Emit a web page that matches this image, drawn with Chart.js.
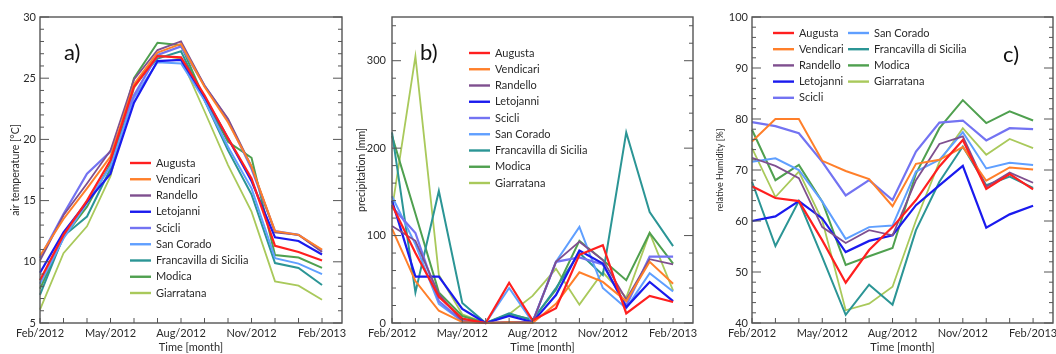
<!DOCTYPE html>
<html><head><meta charset="utf-8">
<script src="https://cdn.jsdelivr.net/npm/chart.js@4.4.0/dist/chart.umd.min.js"></script>
<style>
html,body{margin:0;padding:0;background:#fff;}
#wrap{position:relative;width:1056px;height:354px;overflow:hidden;background:#fff;}
canvas{position:absolute;top:0;}
</style></head><body>
<div id="wrap">
<canvas id="ca" width="350" height="354" style="left:0px"></canvas>
<canvas id="cb" width="350" height="354" style="left:350px"></canvas>
<canvas id="cc" width="356" height="354" style="left:700px"></canvas>
</div>
<script>
// ---------- categories / tick labels ----------
const months = ['Feb/2012','Mar/2012','Apr/2012','May/2012','Jun/2012','Jul/2012','Aug/2012','Sep/2012','Oct/2012','Nov/2012','Dec/2012','Jan/2013','Feb/2013'];
const monthTicks = [0, 3, 6, 9, 12];
const stations = ['Augusta','Vendicari','Randello','Letojanni','Scicli','San Corado','Francavilla di Sicilia','Modica','Giarratana'];
const tempTicks = [5, 10, 15, 20, 25, 30];
const precTicks = [0, 100, 200, 300];
const humTicks = [40, 50, 60, 70, 80, 90, 100];

// ---------- a) air temperature [°C] ----------
const tempAugusta     = [8.5, 12.2, 15.0, 18.3, 24.3, 26.8, 26.7, 23.6, 20.1, 16.8, 11.3, 10.8, 10.1];
const tempVendicari   = [10.5, 13.5, 16.0, 18.6, 24.5, 27.1, 27.8, 24.3, 21.4, 17.8, 12.5, 12.2, 11.0];
const tempRandello    = [10.1, 13.8, 16.4, 19.1, 24.9, 27.3, 28.0, 24.4, 21.7, 17.8, 12.4, 12.2, 10.8];
const tempLetojanni   = [9.1, 12.4, 14.9, 17.2, 23.0, 26.4, 26.5, 23.5, 20.1, 16.6, 12.0, 11.7, 10.6];
const tempScicli      = [10.3, 13.9, 17.2, 19.0, 23.6, 26.9, 27.6, 24.4, 21.6, 17.6, 12.5, 12.2, 10.9];
const tempSanCorado   = [8.2, 11.9, 14.8, 17.8, 23.4, 26.3, 26.2, 23.2, 19.4, 16.0, 10.3, 9.85, 9.0];
const tempFrancavilla = [7.3, 12.1, 13.7, 17.6, 24.4, 26.6, 27.2, 23.2, 19.1, 15.5, 9.9, 9.5, 8.1];
const tempModica      = [7.8, 12.0, 14.5, 18.0, 25.0, 27.9, 27.7, 23.3, 19.8, 18.5, 10.55, 10.35, 9.5];
const tempGiarratana  = [6.1, 10.7, 12.9, 17.0, 24.2, 26.9, 26.6, 22.3, 17.9, 14.1, 8.4, 8.05, 6.9];

// ---------- b) precipitation [mm] ----------
const precAugusta     = [135, 80, 30, 5, 0, 46, 3, 17, 78, 89, 11, 31, 24];
const precVendicari   = [108, 48, 14, 1, 0, 1, 0, 22, 58, 47, 25, 70, 45];
const precRandello    = [111, 94, 33, 2, 0, 1, 1, 70, 93, 72, 27, 73, 67];
const precLetojanni   = [140, 53, 53, 16, 0, 8, 1, 32, 83, 68, 18, 47, 25];
const precScicli      = [133, 103, 25, 2, 0, 1, 1, 70, 75, 67, 20, 76, 76];
const precSanCorado   = [145, 90, 22, 2, 0, 40, 1, 70, 110, 40, 17, 57, 36];
const precFrancavilla = [218, 35, 151, 23, 0, 11, 3, 40, 80, 55, 218, 127, 88];
const precModica      = [214, 125, 35, 8, 0, 10, 4, 38, 94, 72, 49, 103, 68];
const precGiarratana  = [130, 305, 55, 10, 0, 10, 31, 62, 21, 58, 29, 103, 37];

// ---------- c) relative humidity [%] ----------
const humAugusta     = [66.8, 64.5, 63.9, 56.2, 47.9, 54.3, 58.8, 64.1, 70.7, 75.9, 66.3, 69.2, 66.2];
const humVendicari   = [75.6, 80.0, 80.0, 71.8, 69.8, 68.2, 62.9, 71.2, 72.0, 74.5, 67.9, 70.5, 70.1];
const humRandello    = [72.4, 70.8, 68.4, 58.8, 55.7, 58.2, 57.2, 68.0, 75.1, 76.6, 66.7, 69.5, 67.5];
const humLetojanni   = [60.0, 60.9, 63.9, 60.5, 53.9, 56.1, 57.2, 63.1, 67.0, 70.8, 58.7, 61.3, 63.0];
const humScicli      = [79.4, 78.6, 77.2, 71.6, 65.0, 68.0, 64.1, 73.6, 79.3, 79.7, 75.8, 78.2, 78.0];
const humSanCorado   = [71.6, 72.3, 70.0, 63.8, 56.5, 58.8, 59.1, 69.7, 72.0, 77.4, 70.3, 71.4, 71.0];
const humFrancavilla = [67.7, 55.1, 63.9, 52.9, 41.6, 47.5, 43.6, 58.2, 67.7, 74.6, 67.0, 68.7, 66.5];
const humModica      = [77.9, 68.0, 71.0, 63.8, 51.4, 53.1, 54.7, 69.3, 78.2, 83.7, 79.2, 81.5, 79.7];
const humGiarratana  = [74.3, 64.7, 69.7, 60.1, 42.5, 43.8, 47.1, 60.1, 71.6, 78.2, 73.0, 76.1, 74.3];

// ---------- styles ----------
const colors = ['#ff1f1f','#ff7f2a','#7f4f8f','#1a1aee','#7373f2','#5f9fff','#2b9595','#4fa04f','#a9c95b'];
const widths = [2.2, 2, 1.8, 2.2, 2.2, 2, 2, 2, 1.8];
const FONT = 'Lato, "DejaVu Sans", sans-serif';
const TXT = '#2a2a2a';

const decor = {
  id: 'decor',
  afterDraw(chart, args, o) {
    const {ctx, chartArea: {left, right, top, bottom}, scales: {x, y}} = chart;
    ctx.save();
    ctx.strokeStyle = '#555';
    ctx.lineWidth = 1;
    const seg = (x1, y1, x2, y2) => { ctx.beginPath(); ctx.moveTo(x1, y1); ctx.lineTo(x2, y2); ctx.stroke(); };
    for (let v = o.yMin; v <= o.yMax + 1e-9; v += o.yMinor) {
      const py = y.getPixelForValue(v);
      const r = v / o.yMajor;
      const major = Math.abs(r - Math.round(r)) < 1e-6;
      const len = major ? 9 : 4;
      seg(left, py, left + len, py);
      seg(right, py, right - len, py);
    }
    for (let m = 0; m < months.length; m++) {
      const px = x.getPixelForValue(m);
      seg(px, bottom, px, bottom - 5);
    }
    ctx.lineWidth = 1.4;
    ctx.strokeStyle = '#555';
    ctx.strokeRect(left, top, right - left, bottom - top);
    // panel tag
    ctx.fillStyle = '#111';
    ctx.font = '22px ' + FONT;
    ctx.textBaseline = 'middle';
    ctx.textAlign = 'left';
    ctx.fillText(o.tag, o.tagX, o.tagY);
    // legend
    ctx.font = '11px ' + FONT;
    o.legendCols.forEach(col => {
      col.items.forEach((idx, k) => {
        const ds = chart.data.datasets[idx];
        const ly = col.y + k * o.rowH;
        ctx.strokeStyle = ds.borderColor;
        ctx.lineWidth = 2.4;
        seg(col.x, ly, col.x + 21, ly);
        ctx.fillStyle = TXT;
        ctx.fillText(ds.label, col.x + 26, ly);
      });
    });
    ctx.restore();
  }
};

function makeChart(id, series, c) {
  return new Chart(document.getElementById(id), {
    type: 'line',
    data: {
      datasets: stations.map((s, i) => ({
        label: s,
        data: series[i].map((v, j) => ({x: j, y: v})),
        borderColor: colors[i],
        backgroundColor: colors[i],
        borderWidth: widths[i],
        pointRadius: 0,
        tension: 0,
        fill: false,
        clip: false
      }))
    },
    options: {
      responsive: false,
      animation: false,
      devicePixelRatio: 1,
      layout: {padding: {top: 17, right: c.padRight, left: 0, bottom: 0}},
      plugins: {
        legend: {display: false},
        tooltip: {enabled: false},
        decor: c.decor
      },
      scales: {
        x: {
          type: 'linear', min: 0, max: 12.85,
          afterBuildTicks: s => { s.ticks = monthTicks.map(v => ({value: v})); },
          ticks: {callback: v => months[v], maxRotation: 0, autoSkip: false, padding: 4,
                  font: {family: FONT, size: 11}, color: TXT},
          grid: {display: false, drawTicks: false},
          border: {display: false},
          title: {display: true, text: 'Time [month]', font: {family: FONT, size: 11}, color: TXT, padding: {top: 0, bottom: 0}},
          afterFit: s => { s.height = 31; s.paddingLeft = 0; s.paddingRight = 0; }
        },
        y: {
          type: 'linear', min: c.yMin, max: c.yMax,
          afterBuildTicks: s => { s.ticks = c.yTicks.map(v => ({value: v})); },
          ticks: {padding: c.yPad, font: {family: FONT, size: 11}, color: TXT},
          grid: {display: false, drawTicks: false},
          border: {display: false},
          title: {display: true, text: c.yTitle, font: {family: FONT, size: c.yTitleSize}, color: TXT, padding: {top: c.yTitlePad, bottom: 0}},
          afterFit: s => { s.width = c.yWidth; s.paddingTop = 0; s.paddingBottom = 0; }
        }
      }
    },
    plugins: [decor]
  });
}

makeChart('ca',
  [tempAugusta, tempVendicari, tempRandello, tempLetojanni, tempScicli, tempSanCorado, tempFrancavilla, tempModica, tempGiarratana],
  {padRight: 8, yMin: 5, yMax: 30, yTicks: tempTicks, yPad: 4, yWidth: 40,
   yTitle: 'air temperature [°C]', yTitleSize: 10.5, yTitlePad: 9,
   decor: {yMin: 5, yMax: 30, yMinor: 1, yMajor: 5, tag: 'a)', tagX: 64, tagY: 53,
           rowH: 16.25, legendCols: [{x: 130, y: 163, items: [0,1,2,3,4,5,6,7,8]}]}});

makeChart('cb',
  [precAugusta, precVendicari, precRandello, precLetojanni, precScicli, precSanCorado, precFrancavilla, precModica, precGiarratana],
  {padRight: 7, yMin: 0, yMax: 350, yTicks: precTicks, yPad: 6, yWidth: 42,
   yTitle: 'precipitation [mm]', yTitleSize: 10.5, yTitlePad: 5.5,
   decor: {yMin: 0, yMax: 340, yMinor: 20, yMajor: 100, tag: 'b)', tagX: 70, tagY: 53,
           rowH: 16.25, legendCols: [{x: 119, y: 53, items: [0,1,2,3,4,5,6,7,8]}]}});

makeChart('cc',
  [humAugusta, humVendicari, humRandello, humLetojanni, humScicli, humSanCorado, humFrancavilla, humModica, humGiarratana],
  {padRight: 3, yMin: 40, yMax: 100, yTicks: humTicks, yPad: 4, yWidth: 52,
   yTitle: 'relative Humidity [%]', yTitleSize: 9, yTitlePad: 15,
   decor: {yMin: 40, yMax: 100, yMinor: 2, yMajor: 10, tag: 'c)', tagX: 303, tagY: 55,
           rowH: 16.2, legendCols: [{x: 73, y: 33, items: [0,1,2,3,4]}, {x: 148, y: 33, items: [5,6,7,8]}]}});
</script>
</body></html>
